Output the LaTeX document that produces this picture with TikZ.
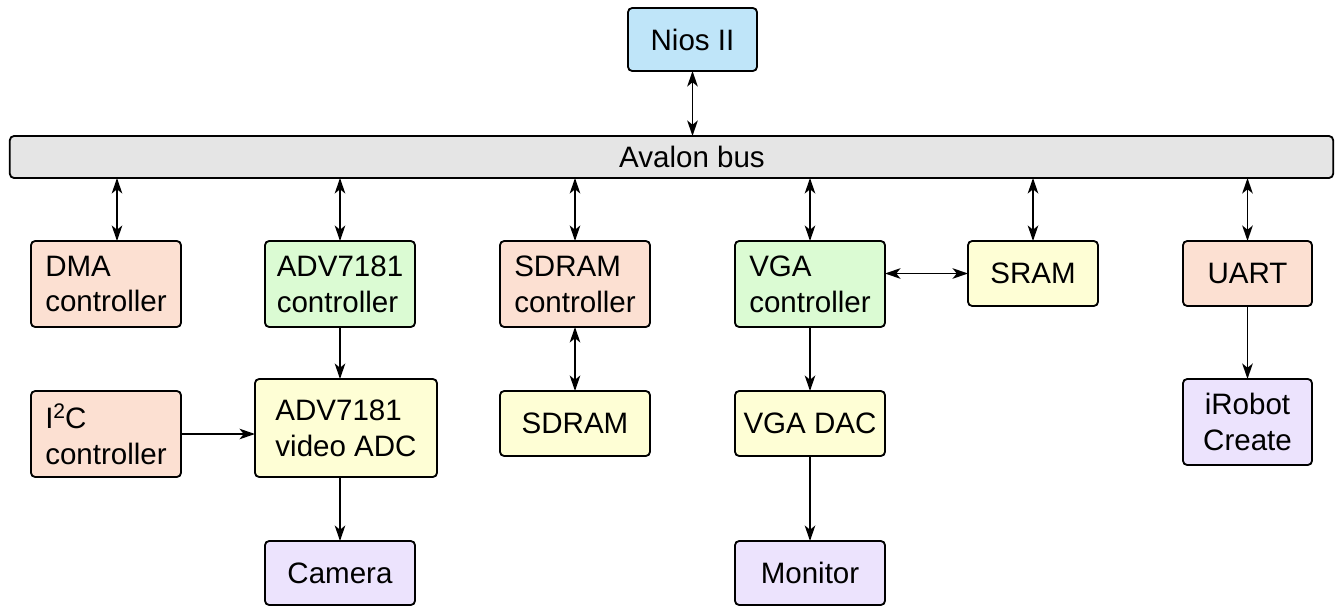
\documentclass[tikz,border=0pt]{standalone}
\usepackage{fontspec}
\setmainfont{Liberation Sans}
\usepackage{tikz}
\usetikzlibrary{arrows.meta,positioning,calc}
\definecolor{niosblue}{HTML}{BFE5F9}
\definecolor{busgray}{HTML}{E5E5E5}
\definecolor{peach}{HTML}{FCE0D2}
\definecolor{mint}{HTML}{DBFBD3}
\definecolor{cream}{HTML}{FEFED5}
\definecolor{lavender}{HTML}{ECE3FD}
\tikzset{
	blk/.style={draw, rounded corners=3pt, line width=1.3pt, inner sep=0pt, outer sep=0pt, align=left,
		font=\fontsize{21}{25.5}\selectfont, minimum width=3.75cm, minimum height=2.15cm},
	short/.style={minimum height=1.625cm},
	biarrow/.style={line width=1.2pt, {Stealth[length=11pt,width=7.5pt,inset=3pt]}-{Stealth[length=11pt,width=7.5pt,inset=3pt]}},
	onearrow/.style={line width=1.2pt, -{Stealth[length=11pt,width=7.5pt,inset=3pt]}},
}
\begin{document}
\begin{tikzpicture}[x=0.025cm,y=-0.025cm]
	\useasboundingbox (0,0) rectangle (1335,611);
	\node[blk, fill=niosblue, minimum width=3.225cm, minimum height=1.575cm] (nios) at (692.5,39.5) {Nios II};
	\node[blk, fill=busgray, minimum width=33.075cm, minimum height=1.05cm,
		label={[xshift=0.5125cm, font=\fontsize{21}{25.5}\selectfont]center:Avalon bus}] (bus) at (671.5,157) {};
	% first row
	\node[blk, fill=peach] (dma) at (106,284) {DMA\\controller};
	\node[blk, fill=mint] (advc) at (340,284) {ADV7181\\controller};
	\node[blk, fill=peach] (sdramc) at (575,284) {SDRAM\\controller};
	\node[blk, fill=mint] (vgac) at (810,284) {VGA\\controller};
	\node[blk, short, fill=cream, minimum width=3.25cm] (sram) at (1033,273.5) {SRAM};
	\node[blk, short, fill=peach, minimum width=3.225cm] (uart) at (1247.5,273.5) {UART};
	% second row
	\node[blk, fill=peach] (iic) at (106,434) {I{\fontsize{15}{15}\selectfont\raisebox{7pt}{2}}C\\controller};
	\node[blk, fill=cream, minimum width=4.55cm, minimum height=2.45cm] (adc) at (346,428) {ADV7181\\video ADC};
	\node[blk, short, fill=cream] (sdram) at (575,423.5) {SDRAM};
	\node[blk, short, fill=cream] (vgadac) at (810,423.5) {VGA DAC};
	\node[blk, fill=lavender, minimum width=3.225cm, align=center] (irobot) at (1247.5,422) {iRobot\\Create};
	% third row
	\node[blk, fill=lavender, minimum height=1.6cm] (camera) at (340,573) {Camera};
	\node[blk, fill=lavender, minimum height=1.6cm] (monitor) at (810,573) {Monitor};

	\draw[biarrow] (nios.south) -- (nios.south |- bus.north);
	\draw[biarrow] ([xshift=0.275cm]dma.north |- bus.south) -- ([xshift=0.275cm]dma.north);
	\foreach \m in {advc,sdramc,vgac,sram,uart}
		\draw[biarrow] (\m.north |- bus.south) -- (\m.north);
	\draw[onearrow] (advc.south) -- (advc.south |- adc.north);
	\draw[onearrow] (adc.south -| camera.north) -- (camera.north);
	\draw[onearrow] (iic.east) -- (iic.east -| adc.west);
	\draw[biarrow] (sdramc.south) -- (sdram.north);
	\draw[biarrow] (sram.west -| vgac.east) -- (sram.west);
	\draw[onearrow] (vgac.south) -- (vgadac.north);
	\draw[onearrow] (vgadac.south) -- (monitor.north);
	\draw[onearrow] (uart.south) -- (irobot.north);
\end{tikzpicture}
\end{document}
